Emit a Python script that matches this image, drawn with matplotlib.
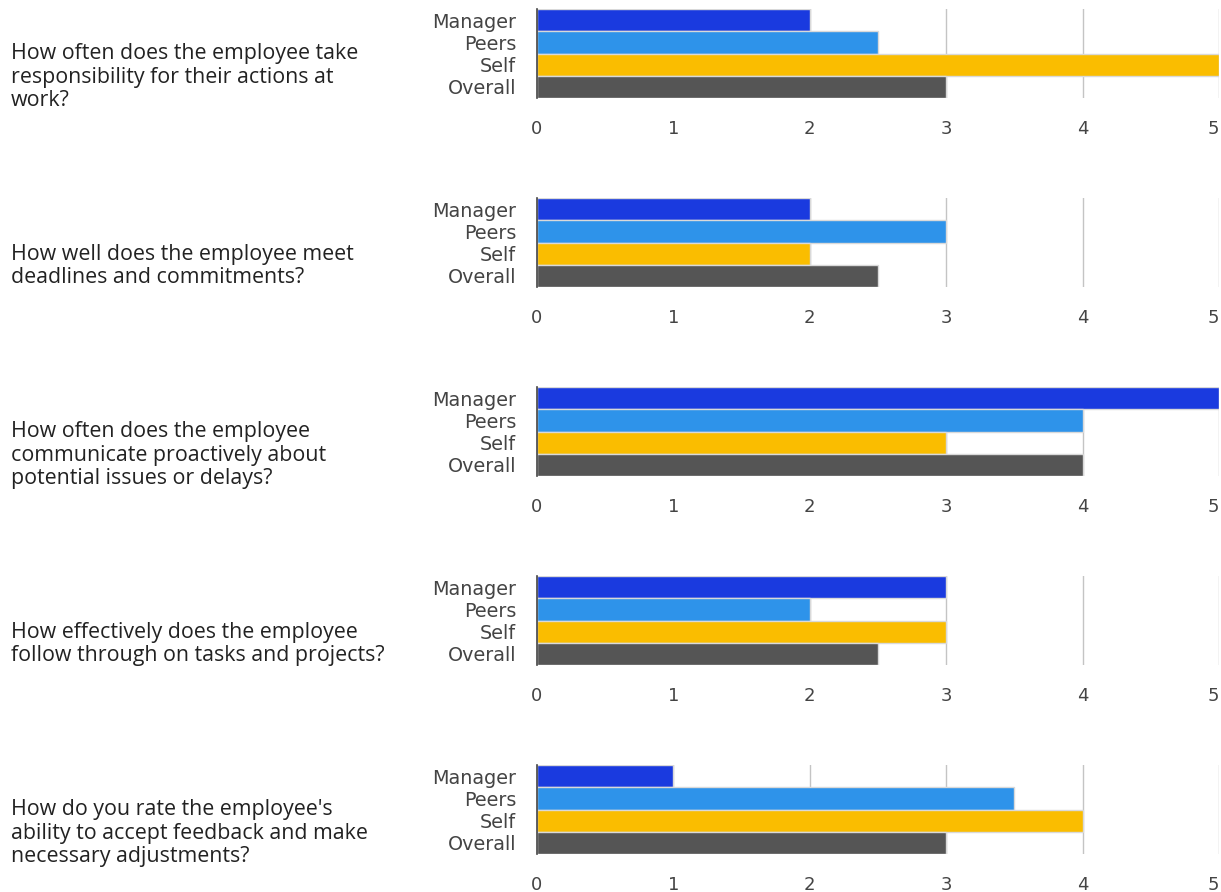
import matplotlib
matplotlib.use("Agg")
import matplotlib.pyplot as plt

questions = [
    "How often does the employee take\nresponsibility for their actions at\nwork?",
    "How well does the employee meet\ndeadlines and commitments?",
    "How often does the employee\ncommunicate proactively about\npotential issues or delays?",
    "How effectively does the employee\nfollow through on tasks and projects?",
    "How do you rate the employee's\nability to accept feedback and make\nnecessary adjustments?",
]
groups = ["Manager", "Peers", "Self", "Overall"]
manager = [2, 2, 5, 3, 1]
peers = [2.5, 3, 4, 2, 3.5]
self_ = [5, 2, 3, 3, 4]
overall = [3, 2.5, 4, 2.5, 3]
xticks = [0, 1, 2, 3, 4, 5]

colors = ["#1a3adf", "#2e93ea", "#fabd00", "#555555"]

W, H = 1221, 892
fig = plt.figure(figsize=(W / 100, H / 100), dpi=100)

left_px, right_px = 537, 1219
for k in range(5):
    top_px = 9 + 189 * k
    bot_px = 98 + 189 * k
    ax = fig.add_axes([left_px / W, 1 - bot_px / H, (right_px - left_px) / W, (bot_px - top_px) / H])
    vals = [manager[k], peers[k], self_[k], overall[k]]
    ax.barh(range(4), vals, height=1.0, color=colors, edgecolor="#d9d9d9", linewidth=1, zorder=3)
    ax.set_xlim(0, 5)
    ax.set_ylim(3.5, -0.5)
    ax.set_yticks(range(4))
    ax.set_yticklabels(groups, fontsize=13.8, color="#444444")
    ax.set_xticks(xticks)
    ax.set_xticklabels([str(t) for t in xticks], fontsize=13, color="#444444")
    lbls = ax.get_xticklabels()
    lbls[-1].set_ha("right")
    ax.tick_params(axis="both", length=0)
    ax.tick_params(axis="x", pad=16)
    ax.tick_params(axis="y", pad=15)
    ax.grid(axis="x", color="#c4c4c4", linewidth=1, zorder=0)
    for s in ["top", "right", "bottom"]:
        ax.spines[s].set_visible(False)
    ax.spines["left"].set_color("#444444")
    ax.spines["left"].set_linewidth(1.2)
    ax.spines["left"].set_zorder(4)
    cy = 1 - (77 + 189 * k) / H
    fig.text(11 / W, cy, questions[k], fontsize=15.4, family="Open Sans", color="#222222",
             ha="left", va="center", linespacing=1.18)

fig.savefig("out.png", dpi=100)
